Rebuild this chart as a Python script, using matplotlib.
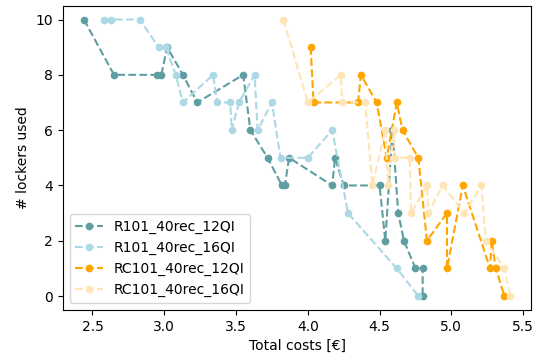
import matplotlib
matplotlib.use("Agg")
import matplotlib.pyplot as plt

labels = ["R101_40rec_12QI", "R101_40rec_16QI", "RC101_40rec_12QI", "RC101_40rec_16QI"]
colors = ["cadetblue", "lightblue", "orange", "moccasin"]

r12_cost = [2.44, 2.65, 2.95, 2.98, 3.02, 3.13, 3.23, 3.55, 3.60, 3.72, 3.82, 3.84, 3.87,
            4.17, 4.19, 4.25, 4.50, 4.54, 4.59, 4.63, 4.67, 4.75, 4.80, 4.80]
r12_lockers = [10, 8, 8, 8, 9, 8, 7, 8, 6, 5, 4, 4, 5, 4, 5, 4, 4, 2, 6, 3, 2, 1, 1, 0]

r16_cost = [2.58, 2.63, 2.83, 2.96, 3.01, 3.08, 3.13, 3.34, 3.37, 3.46, 3.47, 3.52, 3.63,
            3.65, 3.75, 3.81, 4.00, 4.17, 4.28, 4.62, 4.77]
r16_lockers = [10, 10, 10, 9, 9, 8, 7, 8, 7, 7, 6, 7, 8, 6, 7, 5, 5, 6, 3, 1, 0]

rc12_cost = [4.02, 4.04, 4.35, 4.37, 4.48, 4.55, 4.62, 4.66, 4.77, 4.83, 4.97, 4.97, 5.08,
             5.27, 5.28, 5.31, 5.37]
rc12_lockers = [9, 7, 7, 8, 7, 5, 7, 6, 5, 2, 3, 1, 4, 1, 2, 1, 0]

rc16_cost = [3.83, 4.00, 4.23, 4.24, 4.40, 4.45, 4.54, 4.56, 4.60, 4.61, 4.71, 4.72, 4.83,
             4.84, 4.94, 5.09, 5.21, 5.24, 5.37, 5.41]
rc16_lockers = [10, 7, 8, 7, 7, 4, 6, 4, 6, 5, 5, 3, 4, 3, 4, 3, 4, 2, 1, 0]

series = [(r12_cost, r12_lockers), (r16_cost, r16_lockers),
          (rc12_cost, rc12_lockers), (rc16_cost, rc16_lockers)]

fig, ax = plt.subplots(figsize=(5.44, 3.55), dpi=100)
fig.subplots_adjust(left=0.115, right=0.977, top=0.984, bottom=0.127)

for (x, y), lab, c in zip(series, labels, colors):
    ax.plot(x, y, linestyle="--", marker="o", markersize=4.5, linewidth=1.5,
            color=c, label=lab)

ax.set_xlabel("Total costs [€]")
ax.set_ylabel("# lockers used")
ax.set_xticks([2.5, 3.0, 3.5, 4.0, 4.5, 5.0, 5.5])
ax.set_yticks([0, 2, 4, 6, 8, 10])
ax.legend(loc="lower left")

fig.savefig("out.png", dpi=100)
